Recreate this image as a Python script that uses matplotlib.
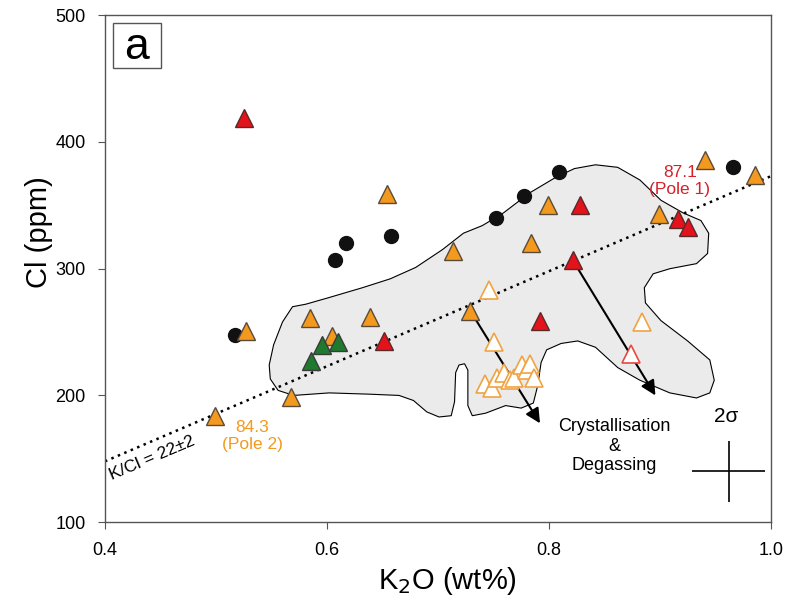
import matplotlib.pyplot as plt
from matplotlib.patches import Polygon, Rectangle

plt.rcParams['font.family'] = ['Liberation Sans', 'DejaVu Sans']

# data (K2O wt%, Cl ppm)
black_k2o = [0.517, 0.607, 0.617, 0.658, 0.752, 0.778, 0.809, 0.966]
black_cl = [248, 307, 320, 326, 340, 357, 376, 380]

orange_k2o = [0.499, 0.527, 0.568, 0.585, 0.605, 0.639, 0.654, 0.714, 0.729,
              0.784, 0.799, 0.899, 0.941, 0.986]
orange_cl = [184, 251, 199, 261, 247, 262, 359, 314, 267,
             320, 350, 343, 386, 374]

red_k2o = [0.525, 0.651, 0.792, 0.822, 0.828, 0.916, 0.925]
red_cl = [419, 243, 259, 307, 350, 339, 333]

green_k2o = [0.586, 0.596, 0.610]
green_cl = [227, 240, 242]

open_k2o = [0.742, 0.749, 0.753, 0.760, 0.765, 0.769, 0.776, 0.780, 0.783,
            0.787, 0.746, 0.751, 0.884]
open_cl = [209, 206, 214, 218, 212, 214, 224, 220, 225, 214, 283, 242, 258]

open_red_k2o = [0.874]
open_red_cl = [233]

# K/Cl = 22 line
line_k2o = [0.4, 1.0]
line_cl = [148, 373]

# grey field outline
field_k2o = [0.569, 0.581, 0.601, 0.632, 0.657, 0.680, 0.704, 0.723, 0.740, 0.759,
             0.783, 0.806, 0.823, 0.842, 0.862, 0.882, 0.901, 0.921, 0.937, 0.944,
             0.943, 0.933, 0.909, 0.894, 0.886, 0.887, 0.901, 0.925, 0.945, 0.949,
             0.945, 0.933, 0.909, 0.882, 0.862, 0.842, 0.826, 0.811, 0.798, 0.793,
             0.790, 0.786, 0.775, 0.761, 0.743, 0.731, 0.727, 0.727, 0.724, 0.719,
             0.716, 0.715, 0.712, 0.701, 0.690, 0.678, 0.665, 0.638, 0.602, 0.570,
             0.556, 0.549, 0.548, 0.552, 0.560]
field_cl = [270, 272, 277, 285, 292, 301, 315, 328, 334, 344,
            360, 372, 379, 382, 380, 370, 354, 344, 338, 328,
            312, 304, 300, 296, 285, 273, 259, 243, 228, 212,
            202, 198, 202, 212, 222, 238, 243, 241, 236, 226,
            208, 194, 190, 192, 186, 184, 192, 220, 225, 224,
            218, 195, 184, 183, 187, 196, 200, 201, 202, 200,
            204, 213, 224, 240, 258]

# arrows: (start k2o, start cl, end k2o, end cl)
arrow1 = [0.729, 267, 0.792, 178]
arrow2 = [0.822, 306, 0.896, 200]

# 2 sigma
sig_k2o, sig_cl, sig_xerr, sig_yerr = 0.962, 140, 0.033, 24

fig = plt.figure(figsize=(7.89, 6.10), dpi=100)
ax = fig.add_axes([0.133, 0.144, 0.844, 0.831])

field = Polygon(list(zip(field_k2o, field_cl)), closed=True, facecolor='#ebebeb',
                edgecolor='black', linewidth=0.8, zorder=1)
ax.add_patch(field)

ax.plot(line_k2o, line_cl, color='black', linestyle=(0, (1, 1.8)), linewidth=1.8, zorder=2)

for a in [arrow1, arrow2]:
    ax.annotate('', xy=(a[2], a[3]), xytext=(a[0], a[1]),
                arrowprops=dict(arrowstyle='-|>', color='black', lw=1.5,
                                mutation_scale=22, shrinkA=0, shrinkB=0), zorder=3)

ax.plot(black_k2o, black_cl, 'o', color='#111111', markersize=10, zorder=4)
ax.plot(open_k2o, open_cl, '^', markerfacecolor='white', markeredgecolor='#f0a343',
        markeredgewidth=1.2, markersize=12.5, zorder=4)
ax.plot(open_red_k2o, open_red_cl, '^', markerfacecolor='white', markeredgecolor='#e8483f',
        markeredgewidth=1.2, markersize=12.5, zorder=4)
ax.plot(orange_k2o, orange_cl, '^', markerfacecolor='#f39a1e', markeredgecolor='#5a4a3a',
        markeredgewidth=1, markersize=12.5, zorder=5)
ax.plot(green_k2o, green_cl, '^', markerfacecolor='#1f7a2e', markeredgecolor='#3a3a3a',
        markeredgewidth=1, markersize=12.5, zorder=5)
ax.plot(red_k2o, red_cl, '^', markerfacecolor='#e3121b', markeredgecolor='#5a2a2a',
        markeredgewidth=1, markersize=12.5, zorder=5)

ax.errorbar(sig_k2o, sig_cl, xerr=sig_xerr, yerr=sig_yerr, color='black', lw=1.2,
            capsize=0, zorder=4)
ax.text(0.960, 183, '2σ', fontsize=15, ha='center', va='center')

ax.text(0.859, 160, 'Crystallisation\n&\nDegassing', fontsize=13, ha='center',
        va='center', linespacing=1.17)
ax.text(0.918, 369, '87.1\n(Pole 1)', fontsize=12.5, color='#d7202a', ha='center',
        va='center', linespacing=1.15)
ax.text(0.533, 168, '84.3\n(Pole 2)', fontsize=12.5, color='#f39a1e', ha='center',
        va='center', linespacing=1.15)
ax.text(0.406, 133, 'K/Cl = 22±2', fontsize=12.5, rotation=23, ha='left', va='baseline',
        rotation_mode='anchor')

ax.add_patch(Rectangle((0.012, 0.895), 0.072, 0.089, transform=ax.transAxes,
                       facecolor='white', edgecolor='#555555', lw=1, zorder=6))
ax.text(0.048, 0.937, 'a', transform=ax.transAxes, fontsize=32, ha='center',
        va='center', zorder=7)

ax.set_xlim(0.4, 1.0)
ax.set_ylim(100, 500)
ax.set_xticks([0.4, 0.6, 0.8, 1.0])
ax.set_xticklabels(['0.4', '0.6', '0.8', '1.0'])
ax.set_yticks([100, 200, 300, 400, 500])
ax.tick_params(direction='out', length=5, labelsize=13, color='#555555', pad=9)
for s in ax.spines.values():
    s.set_color('#555555')
    s.set_linewidth(1)
ax.set_xlabel('K$_2$O (wt%)', fontsize=21)
ax.set_ylabel('Cl (ppm)', fontsize=21)
ax.xaxis.set_label_coords(0.515, -0.085)
ax.yaxis.set_label_coords(-0.078, 0.572)

fig.savefig('out.png')
